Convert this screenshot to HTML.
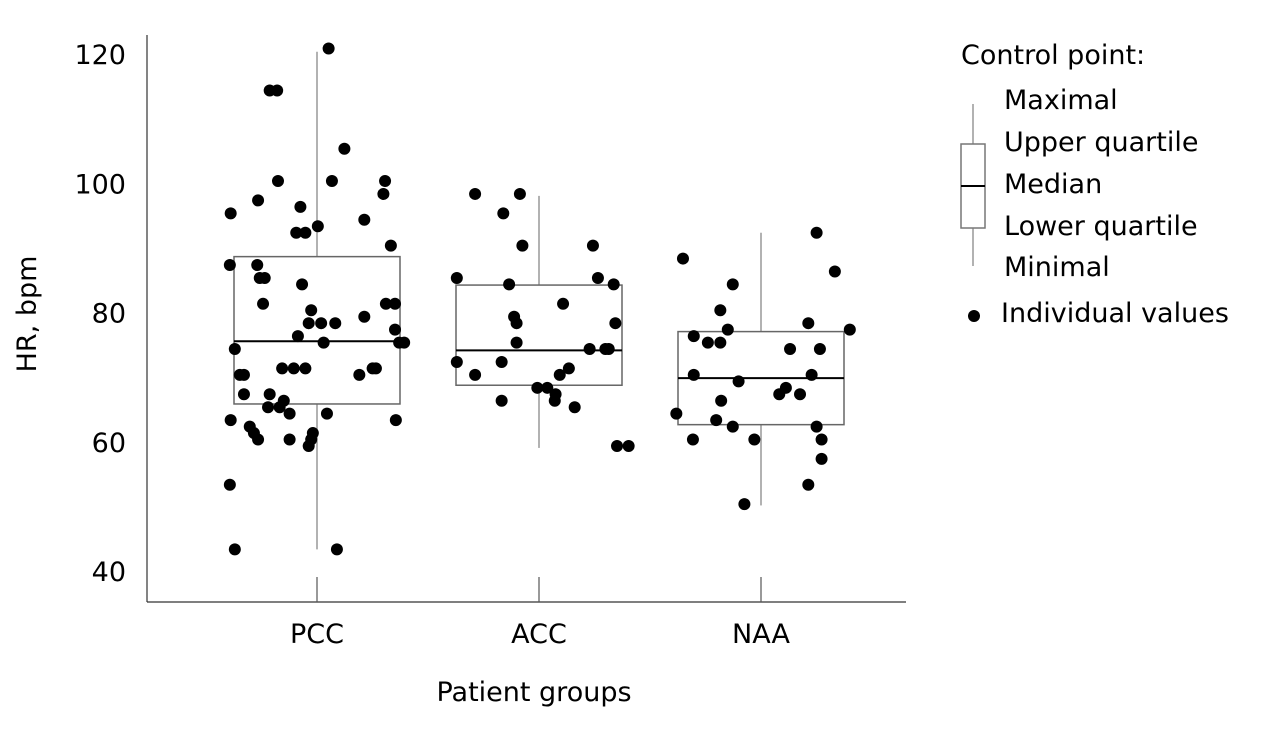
<!DOCTYPE html>
<html><head><meta charset="utf-8"><style>
body{margin:0;background:#fff;width:1265px;height:725px;overflow:hidden}
svg{font-family:"DejaVu Sans","Liberation Sans",sans-serif}
</style></head><body>
<svg id="chart" width="1265" height="725">
<g id="axes"></g>
<g id="boxes"></g>
<g id="points"></g>
<text x="534" y="701" font-size="27" text-anchor="middle">Patient groups</text>
<text transform="translate(36,314) rotate(-90)" font-size="27" text-anchor="middle">HR, bpm</text>
<g font-size="27">
<text x="961" y="64">Control point:</text>
<line x1="973" y1="104" x2="973" y2="144" stroke="#999" stroke-width="1.5"/>
<line x1="973" y1="228" x2="973" y2="266" stroke="#999" stroke-width="1.5"/>
<rect x="961" y="144" width="24" height="84" fill="none" stroke="#777" stroke-width="1.5"/>
<line x1="961" y1="186" x2="985" y2="186" stroke="#000" stroke-width="2"/>
<text x="1004" y="109">Maximal</text>
<text x="1004" y="151">Upper quartile</text>
<text x="1004" y="193">Median</text>
<text x="1004" y="235">Lower quartile</text>
<text x="1004" y="276">Minimal</text>
<circle cx="974" cy="316" r="6" fill="#000"/>
<text x="1001" y="322">Individual values</text>
</g>
</svg>
<script>
const categories=["PCC","ACC","NAA"];
const yTicks=[40,60,80,100,120];
const boxMin=[43.5,59.2,50.3];
const boxQ1=[66.0,68.9,62.8];
const boxMed=[75.7,74.3,70.0];
const boxQ3=[88.8,84.4,77.2];
const boxMax=[120.5,98.2,92.5];
const pccValues=[121,114.5,114.5,105.5,100.5,100.5,100.5,95.5,97.5,96.5,98.5,94.5,93.5,92.5,92.5,90.5,87.5,87.5,85.5,85.5,84.5,81.5,81.5,81.5,80.5,79.5,78.5,78.5,78.5,76.5,77.5,75.5,75.5,75.5,74.5,71.5,71.5,71.5,70.5,71.5,71.5,70.5,70.5,67.5,67.5,66.5,65.5,65.5,64.5,64.5,63.5,63.5,62.5,61.5,60.5,60.5,61.5,60.5,59.5,53.5,43.5,43.5];
const pccJitter=[0.14,-0.57,-0.48,0.33,-0.47,0.18,0.82,-1.04,-0.71,-0.2,0.8,0.57,0.01,-0.25,-0.14,0.89,-1.05,-0.72,-0.69,-0.63,-0.18,-0.65,0.83,0.94,-0.07,0.57,-0.1,0.05,0.22,-0.23,0.94,0.99,1.05,0.08,-0.99,-0.42,-0.28,-0.14,0.51,0.67,0.71,-0.93,-0.88,-0.88,-0.57,-0.4,-0.59,-0.45,-0.33,0.12,-1.04,0.95,-0.81,-0.76,-0.71,-0.33,-0.05,-0.07,-0.1,-1.05,-0.99,0.24];
const accValues=[98.5,98.5,95.5,90.5,90.5,85.5,84.5,85.5,84.5,81.5,79.5,78.5,78.5,75.5,74.5,74.5,74.5,72.5,72.5,71.5,70.5,70.5,68.5,68.5,67.5,66.5,66.5,65.5,59.5,59.5];
const accJitter=[-0.77,-0.23,-0.43,-0.2,0.65,-0.99,-0.36,0.71,0.9,0.29,-0.3,-0.27,0.92,-0.27,0.61,0.8,0.84,-0.99,-0.45,0.36,0.25,-0.77,-0.02,0.1,0.2,0.19,-0.45,0.43,0.94,1.08];
const naaValues=[88.5,92.5,86.5,84.5,80.5,78.5,77.5,77.5,76.5,75.5,75.5,74.5,74.5,70.5,70.5,69.5,68.5,67.5,67.5,66.5,64.5,63.5,62.5,62.5,60.5,60.5,60.5,57.5,53.5,50.5];
const naaJitter=[-0.94,0.67,0.89,-0.34,-0.49,0.57,1.07,-0.4,-0.81,-0.64,-0.49,0.35,0.71,-0.81,0.61,-0.27,0.3,0.22,0.47,-0.48,-1.02,-0.54,-0.34,0.67,-0.82,-0.08,0.73,0.73,0.57,-0.2];
const seriesValues=[pccValues,accValues,naaValues];
const seriesJitter=[pccJitter,accJitter,naaJitter];

const NS="http://www.w3.org/2000/svg";
function y(v){return 55+(120-v)*6.4625;}
function x(i){return 317+i*222;}
const HW=83;
function mk(tag,attrs,parent){const e=document.createElementNS(NS,tag);for(const k in attrs)e.setAttribute(k,attrs[k]);parent.appendChild(e);return e;}
const axes=document.getElementById('axes'),boxes=document.getElementById('boxes'),pts=document.getElementById('points');
let e=mk('line',{x1:147,y1:35,x2:147,y2:602,stroke:'#333','stroke-width':1.2},axes);


e=mk('line',{x1:147,y1:602,x2:906,y2:602,stroke:'#333','stroke-width':1.2},axes);


yTicks.forEach(t=>{
 const tx=mk('text',{x:126,y:y(t)+9,'font-size':27,'text-anchor':'end'},axes);tx.textContent=t;
 
 
});
categories.forEach((c,i)=>{
 const tk=mk('line',{x1:x(i),y1:577,x2:x(i),y2:602,stroke:'#555','stroke-width':1.2},axes);
 
 
 const tx=mk('text',{x:x(i),y:643,'font-size':27,'text-anchor':'middle'},axes);tx.textContent=c;
 
 
 const g=mk('g',{},boxes);
 
 
 mk('line',{x1:x(i),y1:y(boxMax[i]),x2:x(i),y2:y(boxQ3[i]),stroke:'#999','stroke-width':1.5},g);
 mk('line',{x1:x(i),y1:y(boxQ1[i]),x2:x(i),y2:y(boxMin[i]),stroke:'#999','stroke-width':1.5},g);
 mk('rect',{x:x(i)-HW,y:y(boxQ3[i]),width:2*HW,height:y(boxQ1[i])-y(boxQ3[i]),fill:'none',stroke:'#666','stroke-width':1.5},g);
 mk('line',{x1:x(i)-HW,y1:y(boxMed[i]),x2:x(i)+HW,y2:y(boxMed[i]),stroke:'#000','stroke-width':2},g);
 seriesValues[i].forEach((v,j)=>{
  const p=mk('circle',{cx:x(i)+seriesJitter[i][j]*HW,cy:y(v),r:6,fill:'#000'},pts);
  
  
 });
});
</script>
</body></html>
